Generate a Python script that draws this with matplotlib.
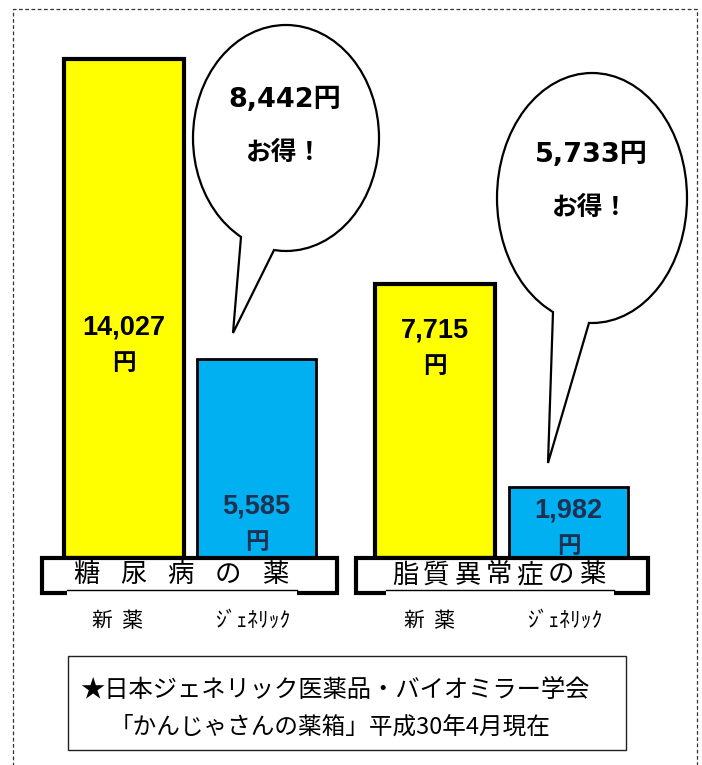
import numpy as np
import matplotlib.pyplot as plt
from matplotlib import font_manager
from matplotlib.patches import Rectangle, Ellipse, Polygon

# data
diseases = ['糖尿病の薬', '脂質異常症の薬']
new_drug = [14027, 7715]
generic = [5585, 1982]
kinds = ['新  薬', 'ｼﾞｪﾈﾘｯｸ']
source = ['★日本ジェネリック医薬品・バイオミラー学会',
          '「かんじゃさんの薬箱」平成30年4月現在']

plt.rcParams['font.family'] = ['Noto Sans CJK JP', 'DejaVu Sans']
names = {f.name for f in font_manager.fontManager.ttflist}
narrow = 'Liberation Sans Narrow' if 'Liberation Sans Narrow' in names else 'Liberation Sans'
num_size = 21 if narrow == 'Liberation Sans Narrow' else 19.5
jp = 'Noto Sans CJK JP'

fig = plt.figure(figsize=(7.02, 7.65), dpi=100)

# bar axes: y in yen, baseline placed at pixel 558
base_px = 558
k = 499 / 14027
ax = fig.add_axes([0, 0, 1, 1])
ax.set_xlim(0, 702)
ax.set_ylim(-(765 - base_px) / k, base_px / k)
ax.axis('off')

# overlay in pixel coordinates
ov = fig.add_axes([0, 0, 1, 1])
ov.set_xlim(0, 702)
ov.set_ylim(765, 0)
ov.axis('off')
ov.patch.set_alpha(0)

x_new = [124, 435]
x_gen = [256.5, 568.5]
ax.bar(x_new, new_drug, width=120, color='#FFFF00', edgecolor='black', linewidth=3, zorder=2)
ax.bar(x_gen, generic, width=119, color='#00B0F0', edgecolor='black', linewidth=2, zorder=2)

# value labels
for x, v, y in zip(x_new, new_drug, [327, 330]):
    ov.text(x, y, f'{v:,}', ha='center', va='center', fontsize=num_size, fontweight='bold',
            family=[narrow, jp], color='black', zorder=3)
    ov.text(x, y + 36, '円', ha='center', va='center', fontsize=17, fontweight='bold',
            family=[jp], color='black', zorder=3)
for x, v, y in zip(x_gen, generic, [506, 510]):
    ov.text(x, y, f'{v:,}', ha='center', va='center', fontsize=num_size, fontweight='bold',
            family=[narrow, jp], color='#1f3050', zorder=3)
    ov.text(x, y + 36, '円', ha='center', va='center', fontsize=17, fontweight='bold',
            family=[jp], color='#1f3050', zorder=3)

# speech bubbles
def bubble(cx, cy, a, b, j1x, j2x, tip, text_y, amount):
    ov.add_patch(Ellipse((cx, cy), 2 * a, 2 * b, fc='white', ec='black', lw=1.6, zorder=3))
    j1y = cy + b * np.sqrt(1 - ((j1x - cx) / a) ** 2)
    j2y = cy + b * np.sqrt(1 - ((j2x - cx) / a) ** 2)
    ov.add_patch(Polygon([(j1x, j1y), tip, (j2x, j2y), (cx, cy)], closed=True,
                         fc='white', ec='white', lw=1.2, zorder=4))
    ov.plot([j1x, tip[0], j2x], [j1y, tip[1], j2y], color='black', lw=1.6,
            solid_joinstyle='miter', zorder=5)
    ov.text(cx - 1, text_y, f'{amount:,}円', ha='center', va='center', fontsize=19.5,
            fontweight='bold', family=['DejaVu Sans', jp], zorder=6)
    ov.text(cx - 1, text_y + 52, 'お得！', ha='center', va='center', fontsize=18.5,
            fontweight='bold', family=[jp], zorder=6)

bubble(286, 138, 93, 113, 241, 274, (233, 333), 100, new_drug[0] - generic[0])
bubble(592, 198, 95, 125, 553, 589, (548, 463), 155, new_drug[1] - generic[1])

# category boxes
boxes = [(42, 295, 73, 288), (356, 292, 392, 605)]
for (bx, bw, tx0, tx1), name, xn, xg in zip(boxes, diseases, x_new, x_gen):
    ov.add_patch(Rectangle((bx, 558), bw, 35, fc='white', ec='black', lw=3, zorder=7))
    ov.add_patch(Rectangle((tx0 - 6, 590), tx1 - tx0 + 15, 6, fc='white', ec='none', zorder=8))
    ov.plot([tx0 - 6, tx1 + 9], [590, 590], color='black', lw=1, zorder=9)
    n = len(name)
    cw = 26
    for i, ch in enumerate(name):
        cx = tx0 + cw / 2 + i * (tx1 - tx0 - cw) / (n - 1)
        ov.text(cx, 575, ch, ha='center', va='center', fontsize=19, family=[jp], zorder=9)
    ov.text(xn - 6, 621, kinds[0], ha='center', va='center', fontsize=15, family=[jp])
    ov.text(xg - 4, 621, kinds[1], ha='center', va='center', fontsize=15.5, family=[jp])

# source box
ov.add_patch(Rectangle((68, 656), 558, 94, fc='none', ec='#222222', lw=1))
ov.text(80, 690, source[0], ha='left', va='center', fontsize=17.5, family=[jp, 'DejaVu Sans'])
ov.text(110, 727, source[1], ha='left', va='center', fontsize=17, family=[jp, 'DejaVu Sans'])

# dashed frame
ov.plot([13, 13, 697, 697], [770, 9, 9, 770], ls=(0, (3, 2)), color='#333333', lw=0.9)

fig.savefig('out.png', dpi=100)
